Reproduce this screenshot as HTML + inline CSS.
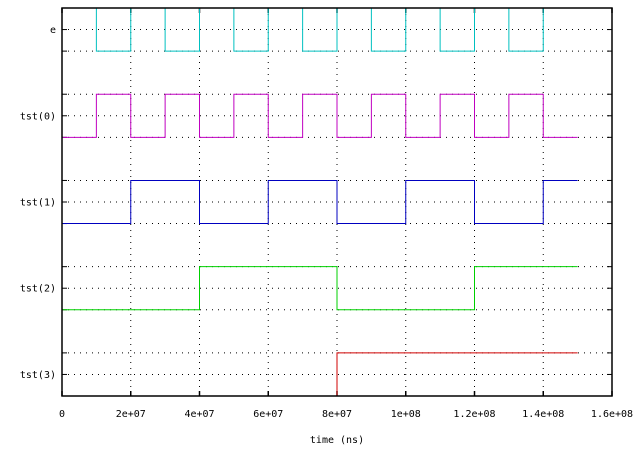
<!DOCTYPE html>
<html><head><meta charset="utf-8"><style>
body{margin:0;background:#fff;}
svg text{font-family:"DejaVu Sans Mono","Liberation Mono",monospace;font-size:10px;fill:#000;}
</style></head><body>
<svg id="c" width="640" height="450" xmlns="http://www.w3.org/2000/svg"></svg>
<script>
const signalNames = ["tst(3)","tst(2)","tst(1)","tst(0)","e"];
const xTicks = [0,2e7,4e7,6e7,8e7,1e8,1.2e8,1.4e8,1.6e8];
const xTickLabels = ["0","2e+07","4e+07","6e+07","8e+07","1e+08","1.2e+08","1.4e+08","1.6e+08"];
const endTime = 1.5e8;
// transition times and levels (step-after)
const tst3Times = [0,8e7];
const tst3Vals = [0,1];
const tst2Times = [0,4e7,8e7,1.2e8];
const tst2Vals = [0,1,0,1];
const tst1Times = [0,2e7,4e7,6e7,8e7,1e8,1.2e8,1.4e8];
const tst1Vals = [0,1,0,1,0,1,0,1];
const tst0Times = [0,1e7,2e7,3e7,4e7,5e7,6e7,7e7,8e7,9e7,1e8,1.1e8,1.2e8,1.3e8,1.4e8];
const tst0Vals = [0,1,0,1,0,1,0,1,0,1,0,1,0,1,0];
const eTimes = [0,1e7,2e7,3e7,4e7,5e7,6e7,7e7,8e7,9e7,1e8,1.1e8,1.2e8,1.3e8,1.4e8];
const eVals = [1,0,1,0,1,0,1,0,1,0,1,0,1,0,1];
const colors = ["#d00000","#00d000","#0000c0","#c000c0","#00c0c0"];

const L=62,R=612,T=8,B=396,XMAX=1.6e8,YMAX=9;
const sx=v=>L+(R-L)*v/XMAX, sy=v=>B-(B-T)*v/YMAX;
const svg=document.getElementById('c'), NS="http://www.w3.org/2000/svg";
function mk(t,a,p){const e=document.createElementNS(NS,t);for(const k in a)e.setAttribute(k,a[k]);(p||svg).appendChild(e);return e;}

// grid
for(let i=1;i<xTicks.length-1;i++){
  const g=mk('line',{x1:sx(xTicks[i]),x2:sx(xTicks[i]),y1:T,y2:B,stroke:'#000','stroke-width':1,'stroke-dasharray':'1,5'});
  
  
}
const yLevels=[];
for(let i=0;i<signalNames.length;i++){yLevels.push(2*i,2*i+0.5,2*i+1);}
yLevels.forEach(v=>{
  if(v<=0||v>=YMAX)return;
  const g=mk('line',{x1:L,x2:R,y1:sy(v),y2:sy(v),stroke:'#000','stroke-width':1,'stroke-dasharray':'1,5'});
  
  
  [[L,L+5],[R-5,R]].forEach(([a,b])=>{const t=mk('line',{x1:a,x2:b,y1:sy(v),y2:sy(v),stroke:'#000','stroke-width':1});
    
    });
});
// x ticks + labels
xTicks.forEach((v,i)=>{
  [[B,B-5],[T,T+5]].forEach(([a,b])=>{const t=mk('line',{x1:sx(v),x2:sx(v),y1:a,y2:b,stroke:'#000','stroke-width':1.5});
    
    });
  const tx=mk('text',{x:sx(v),y:417,'text-anchor':'middle'});tx.textContent=xTickLabels[i];
  
  
});
// y labels
signalNames.forEach((n,i)=>{
  const tx=mk('text',{x:L-6,y:sy(2*i+0.5)+3.5,'text-anchor':'end'});tx.textContent=n;
  
  
});
// series
const series=[[tst3Times,tst3Vals],[tst2Times,tst2Vals],[tst1Times,tst1Vals],[tst0Times,tst0Vals],[eTimes,eVals]];
series.forEach(([ts,vs],i)=>{
  let d='';
  for(let k=0;k<ts.length;k++){
    const y=sy(2*i+vs[k]);const x0=sx(ts[k]);const x1=sx(k+1<ts.length?ts[k+1]:endTime);
    d+=(k===0?'M':'L')+x0+','+y+' L'+x1+','+y+' ';
  }
  const p=mk('path',{d:d,fill:'none',stroke:colors[i],'stroke-width':1});
  
  
});
// frame
const f=mk('rect',{x:L,y:T,width:R-L,height:B-T,fill:'none',stroke:'#000','stroke-width':1.5});


const xt=mk('text',{x:337,y:443,'text-anchor':'middle'});xt.textContent='time (ns)';


</script>
</body></html>
